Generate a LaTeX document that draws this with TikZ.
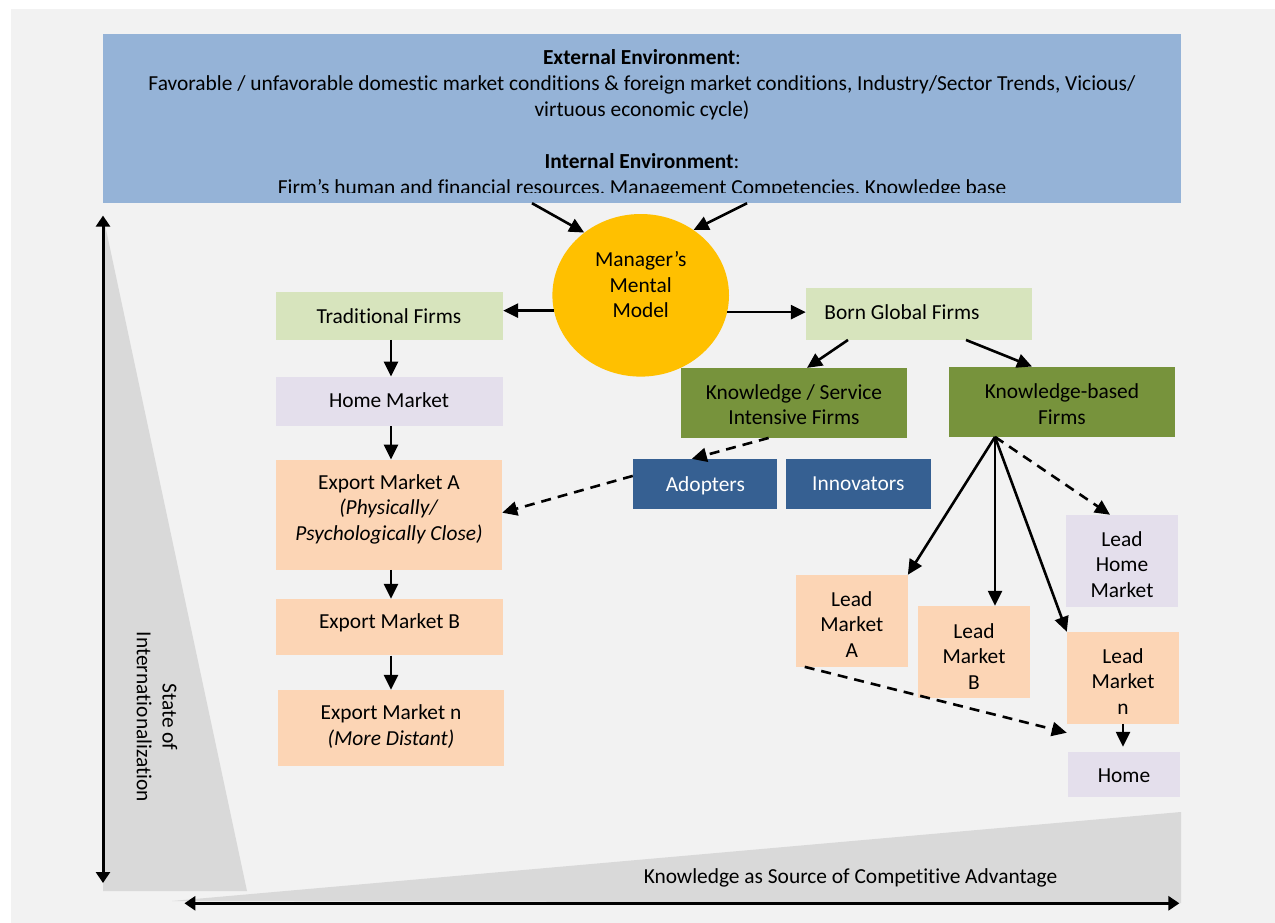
\documentclass[tikz,border=0pt]{standalone}
\usepackage{fontspec}
\setmainfont{Carlito}[Ligatures={NoCommon}]
\usetikzlibrary{arrows.meta,calc,shapes.geometric}
\definecolor{bgc}{HTML}{F2F2F2}
\definecolor{banc}{HTML}{95B3D7}
\definecolor{circc}{HTML}{FFC000}
\definecolor{lgreen}{HTML}{D7E4BD}
\definecolor{lav}{HTML}{E4DFEC}
\definecolor{peach}{HTML}{FCD5B5}
\definecolor{olive}{HTML}{77933C}
\definecolor{dblue}{HTML}{366092}
\definecolor{trig}{HTML}{D9D9D9}
\begin{document}
\begin{tikzpicture}[x=1pt,y=-1pt,
  box/.style={draw=none,inner sep=0pt,rectangle},
  txt/.style={inner sep=0pt,align=center,font=\fontsize{21.4}{25.8}\selectfont},
  arr/.style={line width=2.6pt,-{Triangle[length=15pt,width=14pt]}},
  darr/.style={arr,dash pattern=on 10pt off 7pt},
  axis/.style={line width=3pt,{Triangle[length=11pt,width=14pt]}-{Triangle[length=11pt,width=14pt]}}
]
\useasboundingbox (0,0) rectangle (1275,923);
\fill[bgc] (11,9) rectangle (1275,923);
% gray wedges
\fill[trig] (104,220) -- (103,891) -- (247,891) -- cycle;
\fill[trig] (172,901) -- (1181,812) -- (1181,903) -- cycle;
% banner
\node[box,fill=banc,minimum width=1078pt,minimum height=169pt] (banner) at (642,118.5) {};
\begin{scope}
\clip (103,34) rectangle (1181,193);
\node[txt,anchor=base] (ext) at (642,65) {\textbf{External Environment}:};
\node[txt,anchor=base] (extA) at (642,90.8) {Favorable / unfavorable domestic market conditions \& foreign market conditions, Industry/Sector Trends, Vicious/};
\node[txt,anchor=base] (extB) at (642,116.6) {virtuous economic cycle)};
\node[txt,anchor=base] (int) at (642,168.2) {\textbf{Internal Environment}:};
\node[txt,anchor=base] (intA) at (642,194) {Firm’s human and financial resources, Management Competencies, Knowledge base};
\end{scope}
% circle
\node[ellipse,fill=circc,inner sep=0pt,minimum width=176.6pt,minimum height=162.6pt] (mm) at (640.7,295.3) {};
\node[txt] (mmT) at (640.7,284.7) {Manager’s\\Mental\\Model};
% left column
\node[box,fill=lgreen,minimum width=227pt,minimum height=47.3pt] (trad) at (389.5,316) {};
\node[txt] (tradT) at (389,316) {Traditional Firms};
\node[box,fill=lav,minimum width=227pt,minimum height=49.5pt] (homeM) at (389.5,401.5) {};
\node[txt] (homeMT) at (389,400.5) {Home Market};
\node[box,fill=peach,minimum width=226pt,minimum height=109.8pt] (ema) at (389,514.7) {};
\node[txt] (emaT) at (389,509.4) {Export Market A\\\textit{(Physically/}\\\textit{Psychologically Close)}};
\node[box,fill=peach,minimum width=227pt,minimum height=56.4pt] (emb) at (389.5,627.2) {};
\node[txt] (embT) at (389.5,623) {Export Market B};
\node[box,fill=peach,minimum width=226pt,minimum height=75.6pt] (emn) at (391,727.8) {};
\node[txt] (emnT) at (391,726.4) {Export Market n\\\textit{(More Distant)}};
% right part
\node[box,fill=lgreen,minimum width=226pt,minimum height=51.7pt] (bg) at (919,313.9) {};
\node[txt] (bgT) at (902,311.7) {Born Global Firms};
\node[box,fill=olive,minimum width=226pt,minimum height=69.7pt] (ksi) at (794,402.9) {};
\node[txt] (ksiT) at (794,404.7) {Knowledge / Service\\Intensive Firms};
\node[box,fill=olive,minimum width=226pt,minimum height=70pt] (kb) at (1062,401.7) {};
\node[txt] (kbT) at (1062,404.2) {Knowledge-based\\Firms};
\node[box,fill=dblue,minimum width=144.5pt,minimum height=49.7pt] (ado) at (705.2,483.9) {};
\node[txt,text=white] (adoT) at (705.4,485.3) {Adopters};
\node[box,fill=dblue,minimum width=145pt,minimum height=49.7pt] (inn) at (858.5,483.9) {};
\node[txt,text=white] (innT) at (858.3,483.6) {Innovators};
\node[box,fill=peach,minimum width=111.7pt,minimum height=91.7pt] (lma) at (851.8,620.8) {};
\node[txt] (lmaT) at (851.8,624.5) {Lead\\Market\\A};
\node[box,fill=peach,minimum width=112pt,minimum height=91.7pt] (lmb) at (974,651.8) {};
\node[txt] (lmbT) at (974,656.5) {Lead\\Market\\B};
\node[box,fill=peach,minimum width=112pt,minimum height=91.7pt] (lmn) at (1123,677.8) {};
\node[txt] (lmnT) at (1123,681.4) {Lead\\Market\\n};
\node[box,fill=lav,minimum width=112pt,minimum height=91.7pt] (lhm) at (1122,560.8) {};
\node[txt] (lhmT) at (1122,564.6) {Lead\\Home\\Market};
\node[box,fill=lav,minimum width=112pt,minimum height=44.7pt] (home) at (1124,774.3) {};
\node[txt] (homeT) at (1124,775.7) {Home};
% axis labels
\node[txt,rotate=-90] (soi) at (157,717) {State of\\Internationalization};
\node[txt] (kas) at (850.5,878.3) {Knowledge as Source of Competitive Advantage};
% connectors
\draw[arr] ([xshift=-110pt]banner.south) -- (mm.132);
\draw[arr] ([xshift=105pt]banner.south) -- (mm.51);
\draw[arr] (mm.190.7) -- (mm.190.7 -| trad.east);
\draw[arr] (mm.349.3) -- (mm.349.3 -| bg.west);
\draw[arr] ([xshift=1.5pt]trad.south) -- ([xshift=1.5pt]homeM.north);
\draw[arr] ([xshift=1.5pt]homeM.south) -- ([xshift=2pt]ema.north);
\draw[arr] ([xshift=2pt]ema.south) -- ([xshift=1.5pt]emb.north);
\draw[arr] ([xshift=1.5pt]emb.south) -- (emn.north);
\draw[arr] ([xshift=-71pt]bg.south) -- ([xshift=13pt]ksi.north);
\draw[arr] ([xshift=47pt]bg.south) -- ([xshift=-30pt]kb.north);
\draw[darr] ([xshift=-25.4pt]ksi.south) -- ([xshift=-13.4pt]ado.north);
\draw[darr] ([yshift=8pt]ado.west) -- ([yshift=2pt]ema.east);
\coordinate (kbf) at ([xshift=-67pt]kb.south);
\draw[arr] (kbf) -- (lma.north east);
\draw[arr] (kbf) -- (kbf |- lmb.north);
\draw[arr] (kbf) -- (lmn.north west);
\draw[darr] (kbf) -- ([xshift=-12pt]lhm.north);
\draw[arr,shorten >=5pt] (lmn.south) -- (lmn.south |- home.north);
\draw[darr] ([xshift=9pt]lma.south west) -- ([xshift=-1pt,yshift=19pt]home.north west);
% axes
\coordinate (vt) at (103,215.6);
\coordinate (vb) at (103,883);
\draw[axis] (vt) -- (vb);
\coordinate (hl) at (184.4,903.3);
\coordinate (hr) at (1179.4,903.3);
\draw[axis] (hl) -- (hr);
\end{tikzpicture}
\end{document}
